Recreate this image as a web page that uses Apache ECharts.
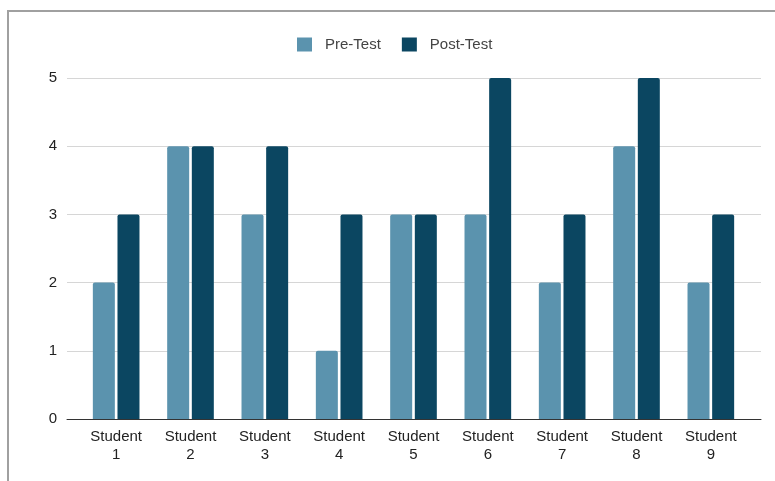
<!DOCTYPE html>
<html>
<head>
<meta charset="utf-8">
<script src="https://cdn.jsdelivr.net/npm/echarts@6/dist/echarts.min.js"></script>
<style>
  html, body { margin: 0; padding: 0; background: #fff; }
  #wrap { position: relative; width: 775px; height: 481px; overflow: hidden; }
  #frame { position: absolute; left: 7px; top: 10px; width: 780px; height: 480px;
           border-top: 2px solid #a0a0a0; border-left: 2px solid #a0a0a0; }
  #chart { position: absolute; left: 0; top: 0; width: 775px; height: 481px; }
</style>
</head>
<body>
<div id="wrap">
  <div id="frame"></div>
  <div id="chart"></div>
</div>
<script>
// Test scores per student
const categories = ['Student\n1', 'Student\n2', 'Student\n3', 'Student\n4', 'Student\n5',
                    'Student\n6', 'Student\n7', 'Student\n8', 'Student\n9'];
const preTest  = [2, 4, 3, 1, 3, 3, 2, 4, 2];
const postTest = [3, 4, 4, 3, 3, 5, 3, 5, 3];
const yTicks = [0, 1, 2, 3, 4, 5];

const chart = echarts.init(document.getElementById('chart'), null, { renderer: 'canvas' });
const font = 'Arial, "Liberation Sans", sans-serif';
const yMin = yTicks[0], yMax = yTicks[yTicks.length - 1];

chart.setOption({
  animation: false,
  legend: {
    top: 32,
    left: 292,
    itemWidth: 15,
    itemHeight: 14,
    itemGap: 21,
    icon: 'rect',
    textStyle: { fontFamily: font, fontSize: 15, color: '#444', padding: [0, 0, 0, 8] },
    data: ['Pre-Test', 'Post-Test']
  },
  grid: [
    // frame grid: gridlines, y labels and the baseline span the full width
    { left: 67, right: 14, top: 78, bottom: 62, containLabel: false },
    // bar grid: categories sit slightly inset from the baseline ends
    { left: 79, right: 27, top: 78, bottom: 62, containLabel: false }
  ],
  xAxis: [
    {
      gridIndex: 0,
      type: 'value',
      min: 0, max: 1,
      axisLine: { show: true, onZero: false, lineStyle: { color: '#333', width: 1 } },
      axisTick: { show: false },
      axisLabel: { show: false },
      splitLine: { show: false }
    },
    {
      gridIndex: 1,
      type: 'category',
      data: categories,
      axisTick: { show: false },
      axisLine: { show: false },
      axisLabel: { fontFamily: font, fontSize: 15, color: '#222', lineHeight: 18, margin: 9, interval: 0 }
    }
  ],
  yAxis: [
    {
      gridIndex: 0,
      type: 'value',
      min: yMin, max: yMax,
      interval: 1,
      axisLine: { show: false },
      axisTick: { show: false },
      splitLine: { lineStyle: { color: '#d6d6d6', width: 1 } },
      axisLabel: { fontFamily: font, fontSize: 15, color: '#222', margin: 10 }
    },
    {
      gridIndex: 1,
      type: 'value',
      min: yMin, max: yMax,
      interval: 1,
      show: false
    }
  ],
  series: [
    {
      name: 'Pre-Test',
      type: 'bar',
      xAxisIndex: 1,
      yAxisIndex: 1,
      data: preTest,
      barWidth: 22,
      barGap: '12%',
      itemStyle: { color: '#5b93ae', borderRadius: [2, 2, 0, 0] }
    },
    {
      name: 'Post-Test',
      type: 'bar',
      xAxisIndex: 1,
      yAxisIndex: 1,
      data: postTest,
      barWidth: 22,
      barGap: '12%',
      itemStyle: { color: '#0b4661', borderRadius: [2, 2, 0, 0] }
    }
  ]
});
</script>
</body>
</html>
